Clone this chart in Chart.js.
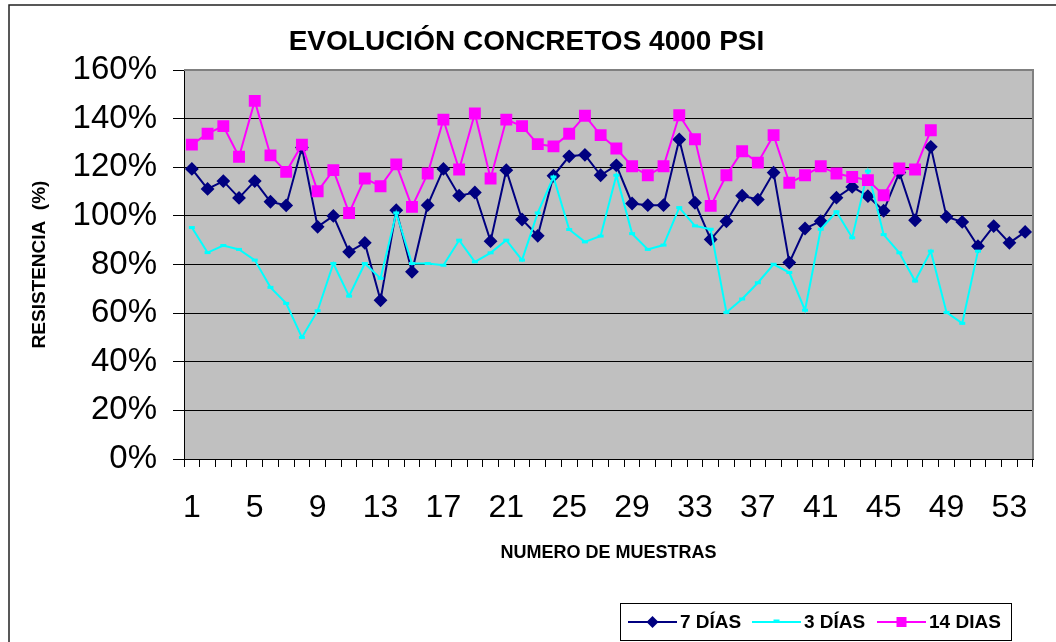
<!DOCTYPE html>
<html>
<head>
<meta charset="utf-8">
<title>Evolución concretos 4000 PSI</title>
<script src="https://cdn.jsdelivr.net/npm/chart.js@4.4.1/dist/chart.umd.min.js"></script>
<style>
  html, body { margin: 0; padding: 0; background: #fff; }
  #wrap { width: 1056px; height: 642px; position: relative; }
</style>
</head>
<body>
<div id="wrap"><canvas id="grafico"></canvas></div>
<script>
const muestras = [
  '1', '2', '3', '4', '5', '6', '7', '8', '9', '10',
  '11', '12', '13', '14', '15', '16', '17', '18', '19', '20',
  '21', '22', '23', '24', '25', '26', '27', '28', '29', '30',
  '31', '32', '33', '34', '35', '36', '37', '38', '39', '40',
  '41', '42', '43', '44', '45', '46', '47', '48', '49', '50',
  '51', '52', '53', '54'
];

// resistencia en % de la de diseño
const dias7 = [
  119.3, 111.1, 114.3, 107.4, 114.3, 105.8, 104.3, 128.1, 95.5, 100.0,
  85.2, 88.9, 65.3, 102.3, 77.0, 104.4, 119.3, 108.3, 109.6, 89.6,
  118.8, 98.5, 91.8, 116.5, 124.5, 125.1, 116.7, 120.8, 105.1, 104.4,
  104.4, 131.4, 105.4, 90.3, 97.8, 108.3, 106.7, 117.8, 80.8, 94.8,
  97.8, 107.5, 111.9, 108.1, 102.1, 117.8, 98.2, 128.4, 99.6, 97.5,
  87.5, 95.8, 88.9, 93.4
];
const dias3 = [
  95.2, 84.9, 87.8, 86.2, 81.8, 70.6, 64.0, 50.0, 61.0, 80.4,
  67.0, 80.4, 74.3, 101.2, 80.4, 80.4, 79.7, 90.0, 81.1, 84.8,
  90.0, 81.8, 101.2, 116.0, 94.4, 89.3, 91.7, 116.7, 92.7, 86.2,
  88.0, 103.4, 95.9, 94.5, 60.3, 65.8, 72.5, 80.1, 76.7, 61.2,
  94.5, 101.7, 91.0, 118.4, 92.3, 84.8, 73.2, 85.5, 60.3, 55.8,
  85.5, null, null, null
];
const dias14 = [
  129.3, 133.8, 136.9, 124.3, 147.3, 124.9, 118.1, 129.3, 110.1, 118.8,
  101.2, 115.4, 112.2, 121.2, 103.7, 117.4, 139.6, 119.1, 142.1, 115.4,
  139.6, 136.9, 129.5, 128.6, 133.8, 141.2, 133.2, 127.7, 120.4, 116.7,
  120.4, 141.4, 131.5, 104.1, 116.7, 126.6, 121.9, 133.2, 113.6, 116.7,
  120.4, 117.4, 116.0, 114.7, 108.5, 119.5, 119.1, 135.2, null, null,
  null, null, null, null
];

const FUENTE = "'Liberation Sans', Arial, sans-serif";
Chart.defaults.font.family = FUENTE;
Chart.defaults.color = '#000';

// fondo gris del área de trazado y marco exterior
const fondo = {
  id: 'fondo',
  beforeDraw(chart) {
    const { ctx, chartArea: a } = chart;
    ctx.save();
    ctx.fillStyle = '#fff';
    ctx.fillRect(0, 0, chart.width, chart.height);
    ctx.fillStyle = '#c0c0c0';
    ctx.fillRect(a.left, a.top, a.right - a.left, a.bottom - a.top);
    ctx.strokeStyle = '#222';
    ctx.lineWidth = 1.5;
    ctx.strokeRect(9, 5, chart.width + 20, chart.height + 20);
    ctx.restore();
  },
  beforeDatasetsDraw(chart) {
    const { ctx, chartArea: a } = chart;
    ctx.save();
    ctx.strokeStyle = '#808080';
    ctx.lineWidth = 2;
    ctx.beginPath();
    ctx.moveTo(a.left, a.top);
    ctx.lineTo(a.right, a.top);
    ctx.lineTo(a.right, a.bottom);
    ctx.stroke();
    ctx.restore();
  }
};

// leyenda tipo Excel: línea con marcador y recuadro
const leyenda = {
  id: 'leyenda',
  afterDraw(chart) {
    const ctx = chart.ctx;
    const posX = [628, 752, 877];
    const y = 622;
    ctx.save();
    ctx.strokeStyle = '#000';
    ctx.lineWidth = 1;
    ctx.strokeRect(620.5, 603.5, 391, 37);
    chart.data.datasets.forEach((ds, i) => {
      const x = posX[i];
      const cx = x + 24.5;
      ctx.strokeStyle = ds.borderColor;
      ctx.lineWidth = 2;
      ctx.beginPath();
      ctx.moveTo(x, y);
      ctx.lineTo(x + 49, y);
      ctx.stroke();
      ctx.fillStyle = ds.pointBackgroundColor;
      if (ds.pointStyle === 'rectRot') {
        ctx.beginPath();
        ctx.moveTo(cx, y - 6);
        ctx.lineTo(cx + 6, y);
        ctx.lineTo(cx, y + 6);
        ctx.lineTo(cx - 6, y);
        ctx.closePath();
        ctx.fill();
      } else if (ds.pointStyle === 'rect') {
        ctx.fillRect(cx - 5, y - 5, 10, 10);
      } else {
        ctx.lineWidth = 3;
        ctx.beginPath();
        ctx.moveTo(cx - 3, y - 1);
        ctx.lineTo(cx + 3, y - 1);
        ctx.stroke();
      }
      ctx.fillStyle = '#000';
      ctx.font = 'bold 19px ' + FUENTE;
      ctx.textBaseline = 'middle';
      ctx.textAlign = 'left';
      ctx.fillText(ds.label, x + 52, y + 1);
    });
    ctx.restore();
  }
};

new Chart(document.getElementById('grafico'), {
  type: 'line',
  data: {
    labels: muestras,
    datasets: [
      {
        label: '7 DÍAS',
        data: dias7,
        borderColor: '#000080',
        backgroundColor: '#000080',
        pointBackgroundColor: '#000080',
        pointBorderColor: '#000080',
        pointStyle: 'rectRot',
        pointRadius: 5.5,
        borderWidth: 2,
        order: 2
      },
      {
        label: '3 DÍAS',
        data: dias3,
        borderColor: '#00ffff',
        backgroundColor: '#00ffff',
        pointBackgroundColor: '#00ffff',
        pointBorderColor: '#00ffff',
        pointStyle: 'line',
        pointRadius: 3,
        pointBorderWidth: 3,
        borderWidth: 2,
        order: 1
      },
      {
        label: '14 DIAS',
        data: dias14,
        borderColor: '#ff00ff',
        backgroundColor: '#ff00ff',
        pointBackgroundColor: '#ff00ff',
        pointBorderColor: '#ff00ff',
        pointStyle: 'rect',
        pointRadius: 7,
        borderWidth: 2,
        order: 0
      }
    ]
  },
  options: {
    responsive: true,
    maintainAspectRatio: false,
    animation: false,
    layout: { padding: { top: 0, right: 23, bottom: 0, left: 20 } },
    plugins: {
      legend: { display: false },
      tooltip: { enabled: false },
      title: {
        display: true,
        text: 'EVOLUCIÓN CONCRETOS 4000 PSI',
        color: '#000',
        font: { size: 28, weight: 'bold' },
        padding: { top: 25, bottom: 11.4 }
      }
    },
    scales: {
      x: {
        offset: true,
        afterFit(scale) { scale.height = 183; },
        grid: {
          offset: true,
          drawOnChartArea: false,
          drawTicks: true,
          tickLength: 8,
          color: '#000'
        },
        border: { color: '#000', width: 1 },
        ticks: {
          autoSkip: false,
          maxRotation: 0,
          padding: 22,
          font: { size: 32 },
          color: '#000',
          callback(v, i) { return i % 4 === 0 ? this.getLabelForValue(v) : ''; }
        },
        title: {
          display: true,
          text: 'NUMERO DE MUESTRAS',
          color: '#000',
          font: { size: 18, weight: 'bold' },
          padding: { top: 0, bottom: 78 }
        }
      },
      y: {
        min: 0,
        max: 160,
        afterFit(scale) { scale.width = 164; },
        grid: { color: '#000', lineWidth: 1, tickLength: 11 },
        border: { color: '#000', width: 1 },
        ticks: {
          stepSize: 20,
          padding: 16,
          font: { size: 33 },
          color: '#000',
          callback: v => v + '%'
        },
        title: {
          display: true,
          text: 'RESISTENCIA  (%)',
          color: '#000',
          font: { size: 19, weight: 'bold' },
          padding: { top: 8, bottom: 0 }
        }
      }
    }
  },
  plugins: [fondo, leyenda]
});
</script>
</body>
</html>
